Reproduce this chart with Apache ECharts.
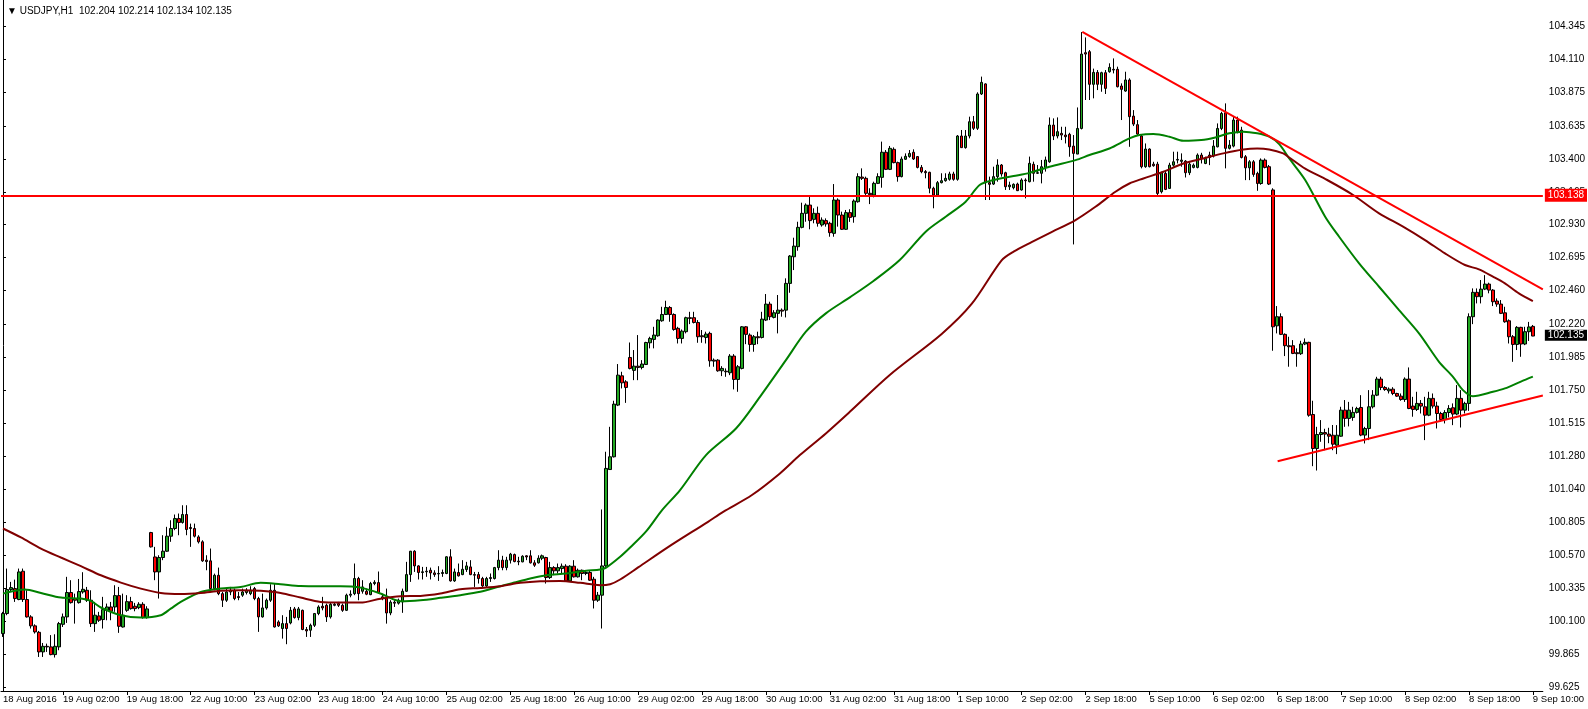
<!DOCTYPE html>
<html><head><meta charset="utf-8">
<script src="https://cdn.jsdelivr.net/npm/echarts@6.0.0/dist/echarts.min.js"></script>
<style>html,body{margin:0;padding:0;background:#fff}#c{width:1588px;height:709px}</style>
</head><body><div id="c"></div>
<script>
const symbolName = 'USDJPY,H1';
const tickLabels = ['18 Aug 2016','19 Aug 02:00','19 Aug 18:00','22 Aug 10:00','23 Aug 02:00','23 Aug 18:00','24 Aug 10:00','25 Aug 02:00','25 Aug 18:00','26 Aug 10:00','29 Aug 02:00','29 Aug 18:00','30 Aug 10:00','31 Aug 02:00','31 Aug 18:00','1 Sep 10:00','2 Sep 02:00','2 Sep 18:00','5 Sep 10:00','6 Sep 02:00','6 Sep 18:00','7 Sep 10:00','8 Sep 02:00','8 Sep 18:00','9 Sep 10:00'];
const priceTicks = [99.625,99.865,100.100,100.335,100.570,100.805,101.040,101.280,101.515,101.750,101.985,102.220,102.460,102.695,102.930,103.165,103.400,103.635,103.875,104.110,104.345];

// hourly bars [open, high, low, close]
const barsAug18to24 = [
[100.011,100.166,99.987,100.154],[100.154,100.475,100.142,100.325],[100.325,100.380,100.308,100.339],[100.332,100.396,100.237,100.261],
[100.254,100.475,100.249,100.451],[100.456,100.475,100.237,100.254],[100.254,100.320,100.125,100.130],[100.130,100.142,100.047,100.066],
[100.066,100.077,100.011,100.023],[100.020,100.030,99.844,99.880],[99.880,99.944,99.844,99.920],[99.920,99.939,99.880,99.916],
[99.916,100.000,99.856,99.861],[99.861,100.006,99.840,99.920],[99.916,100.094,99.892,100.082],[100.077,100.154,100.058,100.130],
[100.130,100.416,100.087,100.304],[100.304,100.392,100.225,100.232],[100.261,100.296,100.082,100.249],[100.232,100.401,100.225,100.311],
[100.308,100.449,100.296,100.327],[100.320,100.344,100.237,100.249],[100.249,100.320,100.058,100.082],[100.082,100.237,100.023,100.142],
[100.137,100.166,100.094,100.106],[100.111,100.273,100.047,100.182],[100.177,100.225,100.106,100.201],[100.201,100.237,100.106,100.170],
[100.201,100.356,100.166,100.282],[100.282,100.344,100.016,100.063],[100.058,100.296,100.054,100.142],[100.177,100.285,100.166,100.239],
[100.239,100.273,100.182,100.189],[100.206,100.230,100.170,100.189],[100.196,100.235,100.185,100.220],[100.220,100.235,100.118,100.125],
[100.125,100.206,100.118,100.187],[100.732,100.737,100.625,100.630],[100.558,100.630,100.392,100.451],[100.451,100.570,100.261,100.554],
[100.554,100.713,100.535,100.599],[100.599,100.773,100.594,100.706],[100.706,100.820,100.666,100.761],[100.761,100.861,100.749,100.832],
[100.832,100.868,100.713,100.804],[100.804,100.927,100.796,100.861],[100.861,100.927,100.713,100.754],[100.768,100.796,100.630,100.761],
[100.761,100.796,100.697,100.706],[100.701,100.713,100.654,100.666],[100.666,100.677,100.523,100.530],[100.535,100.570,100.463,100.525],
[100.530,100.618,100.320,100.332],[100.332,100.439,100.320,100.427],[100.427,100.482,100.285,100.296],[100.296,100.308,100.201,100.249],
[100.249,100.332,100.237,100.308],[100.308,100.344,100.285,100.320],[100.320,100.332,100.249,100.261],[100.275,100.308,100.249,100.268],
[100.285,100.332,100.273,100.308],[100.304,100.335,100.290,100.320],[100.296,100.349,100.285,100.320],[100.332,100.344,100.249,100.261],
[100.261,100.273,100.023,100.130],[100.130,100.296,100.125,100.194],[100.194,100.261,100.182,100.249],[100.249,100.363,100.237,100.320],
[100.320,100.368,100.054,100.058],[100.094,100.106,100.058,100.066],[100.047,100.142,99.975,100.082],[100.082,100.130,99.935,100.047],
[100.087,100.201,100.077,100.177],[100.187,100.201,100.118,100.125],[100.125,100.201,100.106,100.187],[100.177,100.182,100.035,100.040],
[100.040,100.058,99.987,100.030],[100.035,100.082,99.987,100.070],[100.070,100.158,100.058,100.154],[100.154,100.213,100.142,100.201],
[100.206,100.273,100.177,100.194],[100.213,100.225,100.094,100.130],[100.130,100.230,100.118,100.220],[100.213,100.235,100.206,100.220],
[100.225,100.237,100.201,100.213],[100.213,100.225,100.166,100.177],[100.177,100.296,100.172,100.285],[100.285,100.320,100.270,100.292],
[100.296,100.511,100.285,100.404],[100.404,100.416,100.249,100.296],[100.313,100.392,100.296,100.344],[100.313,100.332,100.285,100.292],
[100.289,100.380,100.285,100.368],[100.368,100.392,100.356,100.377],[100.375,100.454,100.296,100.304],[100.273,100.296,100.249,100.261],
[100.268,100.332,100.082,100.158],[100.158,100.249,100.142,100.235],[100.235,100.249,100.201,100.228],[100.228,100.261,100.218,100.249]
];
const barsAug24to26 = [
[100.237,100.332,100.159,100.313],[100.313,100.523,100.308,100.432],[100.432,100.601,100.380,100.599],[100.599,100.606,100.451,100.494],
[100.494,100.499,100.397,100.447],[100.447,100.487,100.397,100.452],[100.452,100.487,100.416,100.456],[100.463,100.482,100.397,100.444],
[100.444,100.463,100.416,100.432],[100.437,100.492,100.387,100.440],[100.440,100.468,100.416,100.447],[100.440,100.563,100.435,100.559],
[100.559,100.613,100.382,100.387],[100.387,100.475,100.380,100.451],[100.447,100.511,100.418,100.423],[100.432,100.535,100.428,100.470],
[100.468,100.523,100.451,100.494],[100.487,100.535,100.428,100.432],[100.432,100.451,100.344,100.428],[100.432,100.451,100.368,100.404],
[100.404,100.416,100.344,100.351],[100.351,100.416,100.344,100.404],[100.404,100.440,100.380,100.411],[100.404,100.487,100.397,100.482],
[100.482,100.606,100.463,100.535],[100.535,100.566,100.463,100.482],[100.482,100.559,100.463,100.535],[100.535,100.587,100.511,100.578],
[100.575,100.582,100.520,100.525],[100.528,100.559,100.499,100.523],[100.523,100.570,100.520,100.563],[100.566,100.570,100.535,100.558],
[100.566,100.606,100.511,100.516],[100.516,100.535,100.487,100.499],[100.516,100.570,100.511,100.549],[100.549,100.575,100.535,100.566],
[100.554,100.559,100.368,100.411],[100.411,100.523,100.401,100.482],[100.482,100.492,100.428,100.459],[100.459,100.511,100.440,100.482],
[100.475,100.511,100.440,100.492],[100.492,100.506,100.380,100.387],[100.387,100.499,100.380,100.492],[100.492,100.535,100.411,100.416],
[100.416,100.475,100.411,100.463],[100.463,100.468,100.392,100.440],[100.440,100.463,100.428,100.447],[100.447,100.463,100.387,100.392],
[100.399,100.416,100.190,100.249],[100.249,100.308,100.237,100.285],[100.285,100.897,100.047,100.494],[100.494,101.309,100.487,101.190],
[101.182,101.487,101.182,101.273],[101.273,101.673,101.268,101.649],[101.642,101.935,101.635,101.856],[101.851,101.880,101.761,101.801],
[101.808,101.820,101.658,101.768]
];
const barsAug26to31 = [
[101.982,102.089,101.897,101.904],[101.890,102.035,101.820,101.920],[101.920,102.142,101.820,101.911],[101.911,101.963,101.897,101.935],
[101.932,102.094,101.928,102.089],[102.087,102.130,102.047,102.118],[102.111,102.201,102.047,102.142],[102.137,102.254,102.130,102.249],
[102.244,102.344,102.237,102.289],[102.289,102.387,102.285,102.339],[102.339,102.349,102.237,102.289],[102.289,102.297,102.173,102.182],
[102.190,102.201,102.082,102.118],[102.118,102.182,102.082,102.170],[102.166,102.273,102.154,102.266],[102.266,102.308,102.220,102.261],
[102.266,102.308,102.225,102.232],[102.232,102.249,102.087,102.130],[102.137,102.178,102.087,102.130],[102.125,102.166,102.082,102.149],
[102.154,102.166,101.916,101.958],[101.963,101.975,101.916,101.956],[101.963,101.970,101.880,101.887],[101.887,101.920,101.849,101.904],
[101.884,101.904,101.844,101.880],[101.873,102.006,101.856,101.992],[101.992,102.006,101.754,101.825],[101.825,101.928,101.737,101.916],
[101.904,102.206,101.897,102.201],[102.201,102.206,102.077,102.147],[102.142,102.154,102.023,102.075],[102.075,102.142,102.023,102.130],
[102.130,102.166,102.077,102.123],[102.125,102.308,102.118,102.256],[102.249,102.435,102.242,102.363],[102.363,102.380,102.249,102.273],
[102.268,102.320,102.261,102.301],[102.297,102.428,102.154,102.320],[102.320,102.332,102.273,102.313],[102.320,102.547,102.268,102.511],
[102.511,102.713,102.444,102.706],[102.701,102.837,102.606,102.777],[102.773,102.951,102.744,102.911],[102.911,103.087,102.904,103.011],
[103.011,103.082,102.951,103.070],[103.070,103.130,102.897,102.959],[102.968,103.047,102.940,103.011],[103.011,103.059,102.916,102.940],
[102.928,102.982,102.916,102.963],[102.959,102.975,102.916,102.935],[102.940,102.951,102.844,102.873],[102.868,103.220,102.844,103.106],
[103.106,103.118,102.916,102.999],[102.999,103.023,102.892,102.897],[102.897,103.035,102.892,103.016]
];
const barsAug31toSep2 = [
[103.016,103.040,102.950,102.982],[102.987,103.111,102.944,103.099],[103.094,103.297,103.087,103.273],[103.270,103.332,103.249,103.261],
[103.261,103.273,103.142,103.154],[103.154,103.190,103.077,103.144],[103.142,103.237,103.125,103.225],[103.225,103.297,103.220,103.273],
[103.268,103.523,103.194,103.447],[103.447,103.463,103.320,103.325],[103.325,103.492,103.320,103.475],[103.468,103.482,103.368,103.373],
[103.373,103.380,103.237,103.273],[103.273,103.416,103.268,103.399],[103.397,103.439,103.392,103.418],[103.416,103.463,103.408,103.439],
[103.447,103.468,103.392,103.399],[103.416,103.420,103.332,103.339],[103.339,103.356,103.297,103.308],[103.309,103.320,103.261,103.301],
[103.304,103.308,103.154,103.190],[103.190,103.201,103.047,103.142],[103.142,103.242,103.137,103.230],[103.230,103.297,103.225,103.244],
[103.244,103.297,103.237,103.261],[103.254,103.308,103.244,103.292],[103.292,103.308,103.244,103.254],[103.254,103.570,103.244,103.563],
[103.563,103.606,103.480,103.480],[103.480,103.606,103.473,103.563],[103.563,103.701,103.546,103.665],[103.665,103.706,103.606,103.618],
[103.618,103.875,103.606,103.863],[103.863,103.987,103.856,103.946],[103.935,103.939,103.106,103.230],[103.230,103.273,103.106,103.218],
[103.220,103.344,103.213,103.273],[103.273,103.397,103.237,103.356],[103.356,103.363,103.273,103.292],[103.301,103.308,103.178,103.201],
[103.201,103.237,103.178,103.213],[103.194,103.225,103.182,103.218],[103.220,103.230,103.170,103.173],[103.178,103.261,103.173,103.249],
[103.249,103.261,103.118,103.244],[103.237,103.416,103.232,103.368],[103.361,103.380,103.237,103.297],[103.297,103.356,103.292,103.301],
[103.297,103.392,103.225,103.344],[103.339,103.416,103.309,103.392]
];
const barsSep2to6 = [
[103.379,103.696,103.372,103.641],[103.641,103.689,103.534,103.563],[103.563,103.696,103.546,103.594],[103.582,103.629,103.534,103.570],
[103.570,103.629,103.510,103.558],[103.575,103.586,103.415,103.486],[103.491,103.570,102.789,103.439],[103.434,103.767,103.434,103.617],
[103.617,104.305,103.610,104.148],[104.158,104.267,103.820,104.148],[104.165,104.177,103.820,103.932],[103.932,104.044,103.832,104.017],
[104.017,104.034,103.891,103.932],[103.932,104.022,103.879,104.015],[104.015,104.034,103.863,103.903],[104.022,104.082,104.015,104.053],
[104.039,104.117,104.010,104.034],[104.039,104.058,103.910,103.915],[103.920,103.939,103.677,103.896],[103.884,104.022,103.879,103.963],
[103.963,103.975,103.486,103.701],[103.705,103.748,103.634,103.648],[103.644,103.677,103.570,103.577],[103.563,103.570,103.332,103.344],
[103.344,103.510,103.336,103.470],[103.470,103.475,103.339,103.344],[103.362,103.379,103.344,103.351],[103.362,103.379,103.141,103.153],
[103.165,103.308,103.153,103.301],[103.296,103.320,103.177,103.182],[103.189,103.372,103.186,103.355],[103.355,103.451,103.344,103.379],
[103.391,103.451,103.367,103.396],[103.382,103.439,103.344,103.391],[103.384,103.391,103.267,103.301],[103.301,103.379,103.284,103.362],
[103.339,103.367,103.332,103.355],[103.339,103.439,103.332,103.427],[103.427,103.443,103.367,103.403],[103.367,103.415,103.362,103.403],
[103.427,103.451,103.355,103.410],[103.420,103.534,103.410,103.491],[103.486,103.653,103.482,103.617],[103.617,103.736,103.605,103.724],
[103.729,103.796,103.332,103.475],[103.475,103.534,103.467,103.498],[103.491,103.701,103.482,103.677],[103.677,103.701,103.582,103.593],
[103.605,103.629,103.403,103.410],[103.415,103.427,103.248,103.336],[103.336,103.391,103.248,103.379],[103.379,103.391,103.272,103.289],
[103.296,103.308,103.172,103.224],[103.224,103.403,103.215,103.391],[103.391,103.403,103.332,103.339],[103.344,103.356,103.213,103.220]
];
const barsSep6to9 = [
[103.178,103.190,102.030,102.201],[102.208,102.349,102.154,102.273],[102.273,102.297,102.142,102.147],[102.147,102.154,101.992,102.066],
[102.066,102.130,101.916,102.059],[102.066,102.106,102.006,102.011],[102.016,102.047,101.916,102.009],[102.009,102.101,102.000,102.078],
[102.078,102.118,102.070,102.090],[102.090,102.094,101.559,101.570],[101.575,101.673,101.206,101.332],[101.332,101.487,101.175,101.432],
[101.432,101.535,101.380,101.446],[101.446,101.473,101.320,101.435],[101.435,101.480,101.370,101.420],[101.427,101.500,101.320,101.363],
[101.356,101.499,101.292,101.427],[101.420,101.630,101.416,101.606],[101.606,101.678,101.487,101.547],[101.547,101.665,101.490,101.606],
[101.554,101.630,101.530,101.590],[101.590,101.630,101.582,101.618],[101.625,101.713,101.420,101.428],[101.428,101.487,101.368,101.475],
[101.475,101.749,101.392,101.630],[101.630,101.749,101.618,101.713],[101.713,101.844,101.706,101.828],[101.828,101.844,101.749,101.768],
[101.768,101.778,101.744,101.753],[101.744,101.768,101.725,101.756],[101.756,101.770,101.713,101.725],[101.725,101.730,101.701,101.706],
[101.706,101.725,101.673,101.682],[101.682,101.840,101.665,101.828],[101.828,101.911,101.613,101.618],[101.635,101.701,101.559,101.611],
[101.611,101.737,101.600,101.654],[101.654,101.678,101.582,101.635],[101.630,101.701,101.392,101.570],[101.570,101.737,101.563,101.690],
[101.690,101.725,101.618,101.635],[101.635,101.666,101.475,101.582],[101.582,101.594,101.523,101.539],[101.539,101.606,101.511,101.589],
[101.589,101.642,101.554,101.618],[101.623,101.654,101.499,101.578],[101.578,101.785,101.570,101.690],[101.690,101.749,101.482,101.606],
[101.606,101.666,101.582,101.654],[101.654,102.297,101.601,102.273],[102.273,102.475,102.220,102.447],[102.447,102.475,102.368,102.416],
[102.416,102.535,102.368,102.470],[102.470,102.570,102.463,102.506],[102.506,102.516,102.440,102.463],[102.463,102.470,102.349,102.380],
[102.385,102.404,102.344,102.363],[102.363,102.392,102.292,102.297],[102.301,102.344,102.230,102.237],[102.244,102.254,102.082,102.130],
[102.130,102.142,101.951,102.075],[102.075,102.206,102.035,102.197],[102.197,102.201,101.987,102.078],[102.078,102.201,102.070,102.166],
[102.166,102.236,102.100,102.200],[102.204,102.214,102.134,102.135]
];

// moving averages: [bar index, price]
const maFast = [[0,100.296],[5.5,100.325],[9.5,100.301],[14.5,100.268],[19.5,100.261],[22,100.244],[24.5,100.197],[29.5,100.142],[34.5,100.125],[39.5,100.142],[42,100.189],[44.5,100.237],[49.5,100.308],[54.5,100.332],[59.5,100.344],[64.5,100.373],[69.5,100.363],[74.5,100.351],[79.5,100.349],[84.5,100.349],[89.5,100.339],[94.5,100.297],[99.5,100.242],[104.5,100.249],[109.5,100.266],[114.5,100.285],[119.5,100.309],[124.5,100.349],[128,100.375],[132,100.404],[136,100.428],[141,100.440],[146,100.459],[149.5,100.468],[151,100.482],[154.5,100.559],[157,100.625],[161,100.740],[165,100.892],[169.5,101.035],[176,101.285],[183.5,101.475],[189.5,101.701],[196,101.963],[201,102.166],[206,102.297],[212,102.411],[218,102.530],[224.5,102.678],[231,102.880],[236,102.987],[241,103.094],[244.5,103.213],[248,103.249],[253,103.277],[257,103.300],[262,103.344],[268.5,103.391],[272,103.427],[277,103.474],[282,103.546],[284.5,103.570],[288,103.577],[292,103.558],[295.5,103.529],[300,103.534],[303.5,103.553],[307,103.582],[310.5,103.594],[314,103.582],[317,103.558],[319.5,103.505],[322,103.403],[326,103.249],[331,102.987],[334.5,102.844],[339.5,102.654],[344.5,102.487],[349.5,102.320],[354.5,102.154],[359.5,101.951],[363,101.844],[365.5,101.749],[368,101.706],[373,101.737],[376,101.761],[380,101.810],[383,101.845]];
const maSlow = [[0,100.761],[4.5,100.697],[9.5,100.618],[14.5,100.554],[19.5,100.492],[24.5,100.427],[29.5,100.375],[34.5,100.332],[39.5,100.301],[44.5,100.294],[49.5,100.301],[54.5,100.316],[59.5,100.320],[64.5,100.316],[69.5,100.301],[74.5,100.268],[79.5,100.237],[84.5,100.232],[89.5,100.232],[94.5,100.260],[99.5,100.278],[104.5,100.280],[109.5,100.297],[114.5,100.328],[119.5,100.337],[124.5,100.349],[129.5,100.373],[134.5,100.385],[139.5,100.387],[144.5,100.373],[149.5,100.356],[152,100.363],[154.5,100.397],[159,100.483],[166.5,100.628],[176.5,100.809],[180.3,100.880],[187.5,101.000],[194.5,101.154],[199.5,101.285],[206,101.440],[212,101.594],[222,101.857],[235,102.150],[242.5,102.364],[250,102.675],[253,102.737],[257.5,102.805],[262,102.870],[268.5,102.963],[273.5,103.058],[278.5,103.165],[282,103.224],[285.5,103.260],[290.5,103.308],[295.5,103.367],[300.5,103.403],[305.5,103.439],[310.5,103.467],[314,103.474],[317,103.467],[320.5,103.439],[322,103.410],[326,103.330],[331.5,103.249],[338,103.142],[344.5,103.011],[350.5,102.916],[356,102.820],[361,102.725],[366,102.642],[369.5,102.611],[373,102.559],[376,102.511],[379.5,102.440],[383,102.385]];

const trendDown = [[270.2,104.306],[385.5,102.468]];
const trendUp = [[319.1,101.241],[385.5,101.710]];
const levelPrice = 103.138;

const bars = [].concat(barsAug18to24, barsAug24to26, barsAug26to31, barsAug31toSep2, barsSep2to6, barsSep6to9);
const nCat = bars.length + 2;
const cats = Array.from({length: nCat}, (_, i) => String(i));
function labelAt(i) {
  if (i === 0) return tickLabels[0];
  if ((i + 1) % 16 === 0 && (i + 1) / 16 < tickLabels.length) return tickLabels[(i + 1) / 16];
  return '';
}
const last = bars[bars.length - 1];
const bidPrice = last[3];
const FONT = 'Liberation Sans';

const chart = echarts.init(document.getElementById('c'), null, {renderer: 'canvas'});
chart.setOption({
  animation: false,
  backgroundColor: '#ffffff',
  textStyle: {fontFamily: FONT},
  title: {
    text: '\u25BC ' + symbolName + '  ' + last.map(v => v.toFixed(3)).join(' '),
    left: 2, top: 1,
    textStyle: {fontSize: 10, fontWeight: 'normal', color: '#000', fontFamily: FONT}
  },
  grid: {left: 0, right: 44, top: 0, bottom: 18},
  xAxis: [
    {
      type: 'category', data: cats, boundaryGap: true,
      axisLine: {show: true, lineStyle: {color: '#000', width: 1}},
      axisTick: {show: true, alignWithLabel: true, length: 4, interval: (i) => (i + 1) % 16 === 0, lineStyle: {color: '#000'}},
      axisLabel: {interval: (i) => labelAt(i) !== '', formatter: (v, i) => labelAt(i), align: 'left', margin: 3, fontSize: 9.5, color: '#000', fontFamily: FONT},
      splitLine: {show: false}
    },
    {type: 'value', min: -0.5, max: nCat - 0.5, show: false}
  ],
  yAxis: {
    type: 'value', position: 'right', min: 99.601, max: 104.534, z: 0,
    axisLine: {show: true, lineStyle: {color: '#000', width: 1}},
    axisTick: {show: true, length: 3, customValues: priceTicks, lineStyle: {color: '#000'}},
    axisLabel: {customValues: priceTicks, formatter: (v) => v.toFixed(3), margin: 6, fontSize: 10, color: '#000', fontFamily: FONT},
    splitLine: {show: false}
  },
  series: [
    {
      type: 'candlestick', xAxisIndex: 0, barWidth: 3, z: 2,
      data: bars.map(b => [b[0], b[3], b[2], b[1]]),
      itemStyle: {color: '#22a822', color0: '#ff0000', borderColor: '#000', borderColor0: '#000', borderWidth: 1}
    },
    {type: 'line', xAxisIndex: 1, data: maFast, symbol: 'none', smooth: 0.3, lineStyle: {color: '#008000', width: 2}, silent: true, z: 3},
    {type: 'line', xAxisIndex: 1, data: maSlow, symbol: 'none', smooth: 0.3, lineStyle: {color: '#800000', width: 2}, silent: true, z: 3},
    {type: 'line', xAxisIndex: 1, data: trendDown, symbol: 'none', lineStyle: {color: '#ff0000', width: 2}, silent: true, z: 4},
    {type: 'line', xAxisIndex: 1, data: trendUp, symbol: 'none', lineStyle: {color: '#ff0000', width: 2}, silent: true, z: 4},
    {
      type: 'line', xAxisIndex: 1, data: [], silent: true, z: 10,
      markLine: {
        symbol: 'none', silent: true, animation: false,
        data: [
          {yAxis: levelPrice, lineStyle: {color: '#ff0000', width: 2, type: 'solid'},
           label: {show: true, position: 'end', distance: 2, formatter: () => levelPrice.toFixed(3), backgroundColor: '#ff0000', color: '#fff', padding: [2, 3, 1, 3], fontSize: 10, fontFamily: FONT}},
          {yAxis: bidPrice, lineStyle: {color: 'rgba(0,0,0,0)', width: 1, type: 'solid'},
           label: {show: true, position: 'end', distance: 2, formatter: () => bidPrice.toFixed(3), backgroundColor: '#000', color: '#fff', padding: [1, 3, 0, 3], fontSize: 10, fontFamily: FONT}}
        ]
      }
    }
  ]
});
</script>
</body></html>
